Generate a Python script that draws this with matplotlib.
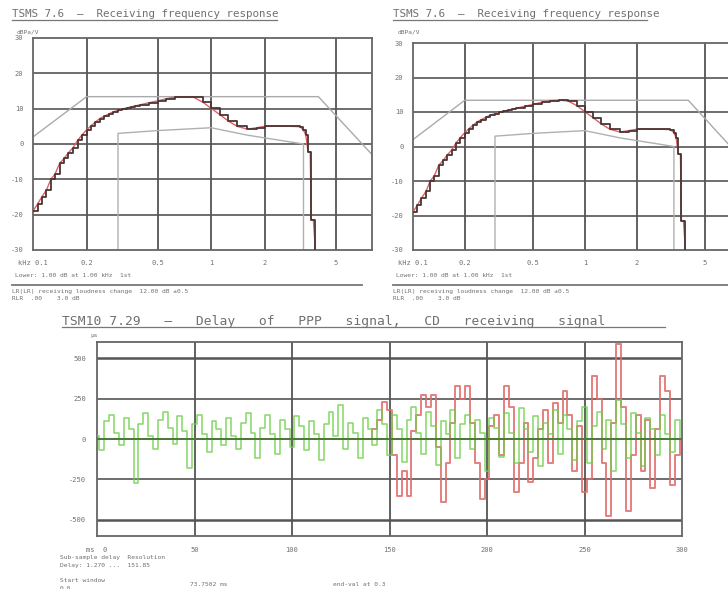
import numpy as np
import matplotlib
matplotlib.use("Agg")
import matplotlib.pyplot as plt
from matplotlib.lines import Line2D

# frequency response (kHz, dB)
freq = [0.1, 0.106, 0.112, 0.119, 0.126, 0.133, 0.141, 0.150, 0.158, 0.168,
        0.178, 0.188, 0.2, 0.212, 0.224, 0.237, 0.25, 0.266, 0.282, 0.3,
        0.316, 0.335, 0.355, 0.376, 0.4, 0.45, 0.5, 0.56, 0.63, 0.71,
        0.8, 0.9, 1.0, 1.12, 1.25, 1.4, 1.6, 1.8, 2.0, 2.24,
        2.5, 2.8, 3.15, 3.3, 3.4, 3.5, 3.6, 3.65, 3.75, 3.85]
resp = [-19, -17, -15, -13, -10, -8.5, -5.5, -4, -2.5, -1,
        1, 2.5, 4, 5.2, 6.2, 7.2, 7.8, 8.5, 9.1, 9.5,
        9.9, 10.2, 10.5, 10.8, 11.1, 11.7, 12.2, 12.8, 13.3, 13.4,
        13.2, 11.8, 10.1, 8.3, 6.5, 5.0, 4.2, 4.6, 5.0, 5.1,
        5.0, 5.0, 4.9, 4.0, 2.5, -2.2, -2.2, -21.5, -21.5, -30]

# tolerance masks
upper_f = [0.1, 0.2, 4.0, 8.0]
upper_db = [2, 13.4, 13.4, -3]
lower_f = [0.3, 0.3, 0.5, 1.0, 1.6, 3.3, 3.3]
lower_db = [-30, 3.0, 3.8, 4.6, 2.5, 0.0, -30]

freq_ticks = [0.1, 0.2, 0.5, 1, 2, 5]
freq_labels = ["kHz 0.1", "0.2", "0.5", "1", "2", "5"]
db_ticks = [-30, -20, -10, 0, 10, 20, 30]

# delay plot, 2.5 ms steps
step_ms = 2.5
green = [20, -70, 110, 150, 40, -40, 130, 60, -270, 90,
         160, 20, -60, 120, 170, 70, -30, 140, 50, -180,
         90, 150, 30, -80, 110, 60, -40, 130, 20, -60,
         100, 160, 40, -120, 70, 150, 30, -90, 120, 60,
         -50, 140, 80, -70, 110, 30, -130, 90, 170, 20,
         210, -60, 100, 40, -120, 130, 60, -40, 180, 90,
         -100, 150, 60, -140, 120, 200, 40, -90, 170, 80,
         -160, 110, 30, 180, -120, 90, 150, -60, 120, 40,
         -200, 130, 70, -110, 160, 40, -150, 190, 60, -80,
         140, -170, 100, 30, 180, -90, 150, 60, -130, 110,
         200, -150, 80, 170, -60, 120, -200, 240, 90, -120,
         160, 40, -170, 130, 60, -100, 150, 30, -80, 120, 0]
red_start = 140
red = [0, 60, 120, 230, 180, -100, -350, -200, -350, 50,
       150, 275, 200, 275, -50, -390, -150, 100, 330, 250,
       330, 100, -150, -370, -250, 80, 150, -100, 330, 200,
       -330, -150, 100, -265, -120, 60, 180, -150, 220, 100,
       300, 150, -200, 80, -330, -250, 390, 250, -150, -475,
       100, 590, 200, -445, -100, 150, -200, 120, -300, 60,
       390, 300, -285, -100, 0]
time_ticks = [0, 50, 100, 150, 200, 250, 300]
time_labels = ["ms  0", "50", "100", "150", "200", "250", "300"]
delay_ticks = [-500, -250, 0, 250, 500]

W, H = 728, 589
TXT = "#707070"
GRID = "#555555"
mono = "DejaVu Sans Mono"

fig = plt.figure(figsize=(W / 100, H / 100), dpi=100)


def box(left, top, right, bottom):
    return [left / W, 1 - bottom / H, (right - left) / W, (bottom - top) / H]


def ftext(x, y, s, size=5.5, **kw):
    fig.text(x / W, 1 - y / H, s, fontsize=size, family=mono, color=TXT,
             va="center", ha=kw.pop("ha", "left"), **kw)


def hrule(x0, x1, y, lw=1.2, color="#777777"):
    fig.add_artist(Line2D([x0 / W, x1 / W], [1 - y / H, 1 - y / H],
                          transform=fig.transFigure, color=color, lw=lw))


def draw_freq(ax):
    ax.set_xscale("log")
    ax.set_xlim(0.1, 8)
    ax.set_ylim(-30, 30)
    for f in [0.2, 0.5, 1, 2, 5]:
        ax.axvline(f, color=GRID, lw=1.3, zorder=1)
    for d in db_ticks[1:-1]:
        ax.axhline(d, color=GRID, lw=1.2, zorder=1)
    ax.plot(upper_f, upper_db, color="#aaaaaa", lw=1.0, zorder=2)
    ax.plot(lower_f, lower_db, color="#b0b0b0", lw=1.0, zorder=2)
    ax.plot(freq, resp, color="#e06060", lw=1.0, zorder=3)
    ax.plot(freq, resp, color="#4a3535", lw=1.3, drawstyle="steps-post", zorder=4)
    ax.set_xticks(freq_ticks)
    ax.set_xticklabels(freq_labels)
    ax.minorticks_off()
    ax.set_yticks(db_ticks)
    ax.set_yticklabels([str(d) for d in db_ticks])
    ax.tick_params(length=0, labelsize=5, labelcolor=TXT, pad=7)
    for lab in ax.get_xticklabels() + ax.get_yticklabels():
        lab.set_family(mono)
    for s in ax.spines.values():
        s.set_color("#666666")
        s.set_linewidth(1.3)


ax1 = fig.add_axes(box(33, 38, 372, 250))
draw_freq(ax1)
ax2 = fig.add_axes(box(413, 43, 740, 250))
draw_freq(ax2)

for dx, x_end in [(0, 277), (381, 647)]:
    ftext(12 + dx, 14, "TSMS 7.6  —  Receiving frequency response", size=7.8)
    hrule(12 + dx, x_end, 20, lw=0.9)
    ftext(17 + dx, 32, "dBPa/V", size=4.5)
    ftext(15 + dx, 275, "Lower: 1.00 dB at 1.00 kHz  1st", size=4.5)
    hrule(12 + dx, 362 + dx, 285, lw=1.3)
    ftext(12 + dx, 291, "LR(LR) receiving loudness change  12.00 dB ±0.5", size=4.5)
    ftext(12 + dx, 298, "RLR  .00    3.0 dB", size=4.5)

# delay plot
ax3 = fig.add_axes(box(97, 342, 682, 536))
ax3.set_xlim(0, 300)
ax3.set_ylim(-600, 600)
for t in time_ticks[1:-1]:
    ax3.axvline(t, color=GRID, lw=1.3, zorder=1)
for d in delay_ticks:
    ax3.axhline(d, color=GRID, lw=1.8 if abs(d) == 500 else 1.2, zorder=1)
t_green = np.arange(len(green)) * step_ms
t_red = red_start + np.arange(len(red)) * step_ms
ax3.plot(t_red, red, color="#e06a6a", lw=1.4, alpha=0.85,
         drawstyle="steps-mid", zorder=2)
ax3.plot(t_green, green, color="#6fd04a", lw=1.1, alpha=0.85,
         drawstyle="steps-mid", zorder=3)
ax3.axhline(0, color="#4d7a3a", lw=1.4, zorder=4)
ax3.set_xticks(time_ticks)
ax3.set_xticklabels(time_labels)
ax3.set_yticks(delay_ticks)
ax3.set_yticklabels([str(d) for d in delay_ticks])
ax3.tick_params(length=0, labelsize=5, labelcolor=TXT, pad=8)
for lab in ax3.get_xticklabels() + ax3.get_yticklabels():
    lab.set_family(mono)
for s in ax3.spines.values():
    s.set_color("#666666")
    s.set_linewidth(1.3)

ftext(62, 321, "TSM10 7.29   —   Delay   of   PPP   signal,   CD   receiving   signal",
      size=9.4)
hrule(62, 665, 327, lw=0.9)
ftext(90, 336, "µs", size=4.5)
ftext(60, 558, "Sub-sample delay  Resolution", size=4.5)
ftext(60, 566, "Delay: 1.270 ...  151.85", size=4.5)
ftext(60, 580, "Start window", size=4.5)
ftext(60, 588, "0.0", size=4.5)
ftext(190, 585, "73.7502 ms", size=4.5)
ftext(333, 585, "end-val at 0.3", size=4.5)

fig.savefig("out.png", dpi=100, facecolor="white")
